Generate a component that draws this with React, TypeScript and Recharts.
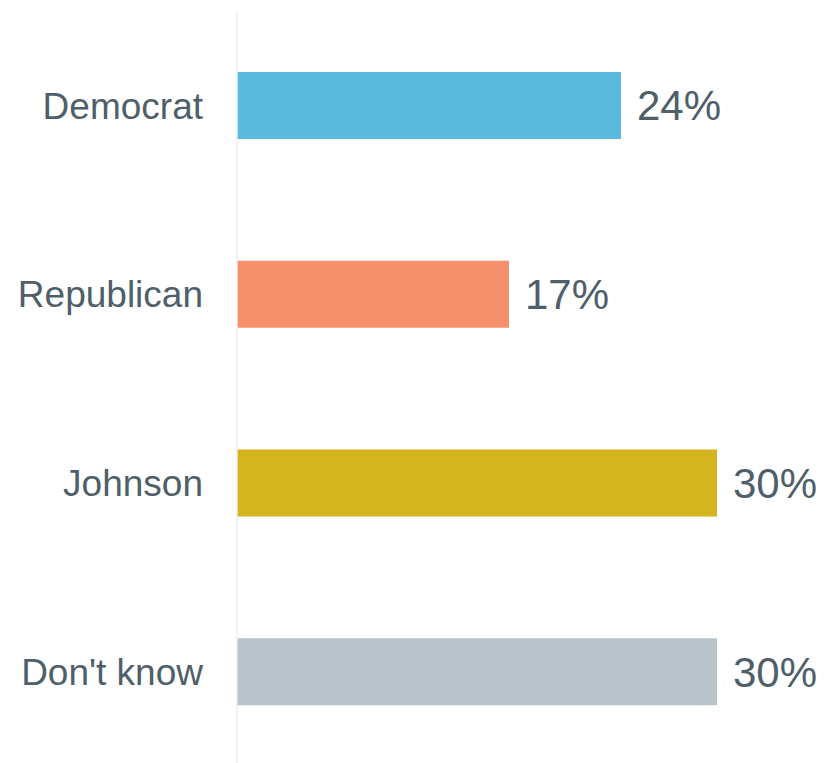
import { BarChart, Bar, XAxis, YAxis, Cell, LabelList } from "recharts";

const categories: string[] = ["Democrat", "Republican", "Johnson", "Don't know"];
const shares: number[] = [24, 17, 30, 30];

const COLORS: string[] = ["#5abade", "#f6906c", "#d4b41f", "#b9c3ca"];

const data = categories.map((name, i) => ({ name, value: shares[i] }));

const TEXT = "#4f5f6a";
const FONT = "'Liberation Sans', Arial, sans-serif";

export default function App() {
  return (
    <div style={{ position: "absolute", left: 0, top: 0, fontFamily: FONT }}>
      <BarChart
        width={830}
        height={770}
        data={data}
        layout="vertical"
        margin={{ top: 11, right: 113, bottom: 4, left: 0 }}
      >
        <XAxis type="number" domain={[0, 30]} hide />
        <YAxis
          type="category"
          dataKey="name"
          width={237}
          tickLine={false}
          tickSize={0}
          tickMargin={34}
          axisLine={{ stroke: "#eeeeee", strokeWidth: 1.5 }}
          tick={{ fill: TEXT, fontSize: 37, fontFamily: FONT }}
        />
        <Bar dataKey="value" barSize={67} isAnimationActive={false}>
          {data.map((d, i) => (
            <Cell key={`cell-${d.name}`} fill={COLORS[i % COLORS.length]} />
          ))}
          <LabelList
            dataKey="value"
            position="right"
            offset={16}
            formatter={(v: number) => `${v}%`}
            style={{ fill: TEXT, fontSize: 42, fontFamily: FONT }}
          />
        </Bar>
      </BarChart>
    </div>
  );
}
